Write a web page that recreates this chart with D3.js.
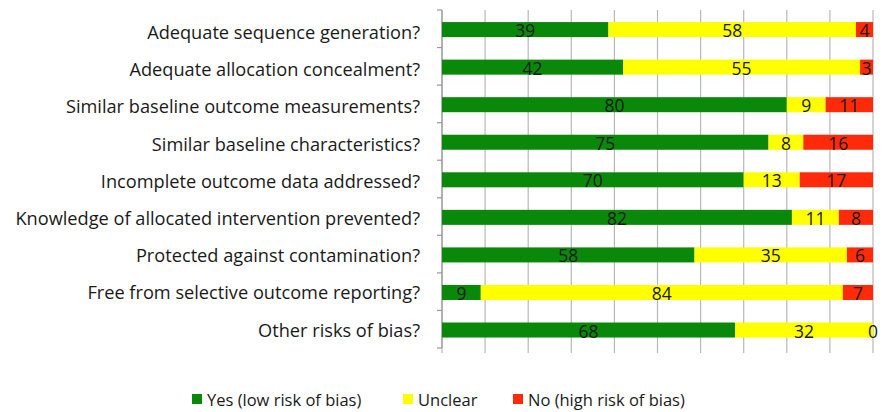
<!DOCTYPE html>
<html><head><meta charset="utf-8">
<script src="https://cdn.jsdelivr.net/npm/d3@7"></script>
<style>body{margin:0;background:#fff}svg{display:block}text{font-family:"Open Sans",sans-serif;fill:#1a1a1a}</style>
</head><body><svg id="c" width="884" height="412"></svg>
<script>
const categories = ["Adequate sequence generation?","Adequate allocation concealment?","Similar baseline outcome measurements?","Similar baseline characteristics?","Incomplete outcome data addressed?","Knowledge of allocated intervention prevented?","Protected against contamination?","Free from selective outcome reporting?","Other risks of bias?"];
const yesValues = [39,42,80,75,70,82,58,9,68];
const unclearValues = [58,55,9,8,13,11,35,84,32];
const noValues = [4,3,11,16,17,8,6,7,0];
const seriesNames = ["Yes (low risk of bias)","Unclear","No (high risk of bias)"];
const seriesColors = ["#0a880a","#ffff00","#ff2a0a"];
const xTicks = [0,10,20,30,40,50,60,70,80,90,100];

const svg = d3.select("#c");
const m = {left:442, right:873, top:10, bottom:348};
const rows = categories.map((c,i)=>({cat:c, vals:[yesValues[i],unclearValues[i],noValues[i]]}));
rows.forEach(r=>{const t=d3.sum(r.vals); r.norm=r.vals.map(v=>v/t*100);});
const x = d3.scaleLinear().domain([0,100]).range([m.left,m.right]);
const y = d3.scaleBand().domain(categories).range([m.top+0.8,m.bottom+0.8]).paddingInner(0.6).paddingOuter(0.3);
const yb = d3.scaleBand().domain(categories).range([m.top,m.bottom]);
const yl = d3.scaleBand().domain(categories).range([14,348.6]);

// gridlines
svg.append("g").selectAll("line").data(xTicks).join("line")
  .attr("x1",d=>x(d)).attr("x2",d=>x(d)).attr("y1",m.top).attr("y2",m.bottom+5)
  .attr("stroke","#b8b8b8").attr("stroke-width",1.2);
// left axis
svg.append("line").attr("x1",m.left).attr("x2",m.left).attr("y1",m.top).attr("y2",m.bottom).attr("stroke","#999").attr("stroke-width",1.2);
const yt = categories.map((c)=>yb(c)).concat([m.bottom]);
svg.append("g").selectAll("line").data(yt).join("line")
  .attr("x1",m.left-5).attr("x2",m.left).attr("y1",d=>d).attr("y2",d=>d).attr("stroke","#999").attr("stroke-width",1.2);

// bars
const g = svg.append("g");
rows.forEach(r=>{
  let acc=0;
  r.norm.forEach((v,j)=>{
    const x0=acc; acc+=v;
    g.append("rect").attr("x",x(x0)).attr("width",x(acc)-x(x0))
      .attr("y",y(r.cat)).attr("height",y.bandwidth()).attr("fill",seriesColors[j]);
    g.append("text").attr("x",(x(x0)+x(acc))/2).attr("y",y(r.cat)+y.bandwidth()/2+7.5)
      .attr("text-anchor","middle").attr("font-size",17.5).text(r.vals[j]);
  });
});

// category labels
svg.append("g").selectAll("text").data(categories).join("text")
  .attr("x",420).attr("y",d=>yl(d)+yl.bandwidth()/2+6.5)
  .attr("text-anchor","end").attr("font-size",18.2).text(d=>d);

// legend
const legX = [192,403,513];
seriesNames.forEach((s,i)=>{
  svg.append("rect").attr("x",legX[i]).attr("y",394).attr("width",10).attr("height",10).attr("fill",seriesColors[i]);
  svg.append("text").attr("x",legX[i]+15).attr("y",406).attr("font-size",16.5).text(s);
});
</script></body></html>
